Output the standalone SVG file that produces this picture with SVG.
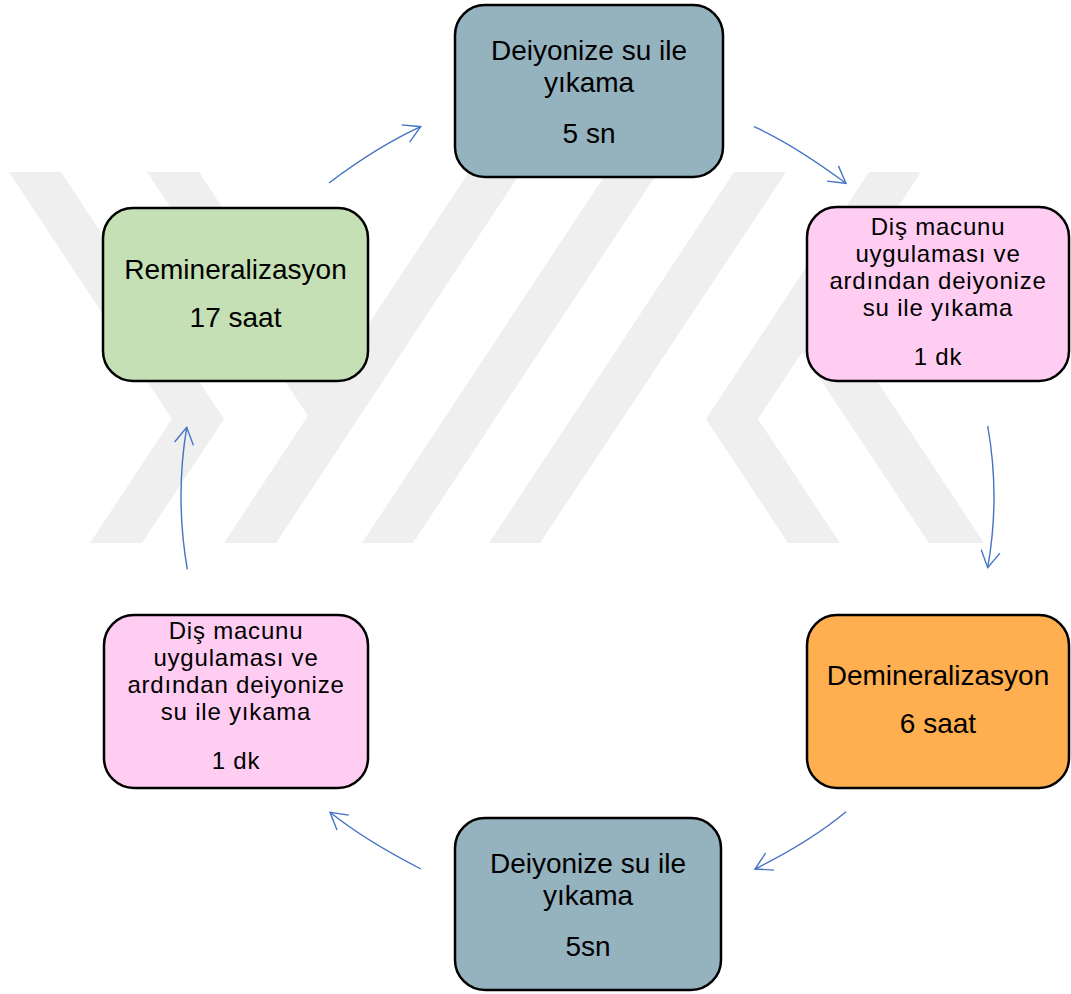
<svg xmlns="http://www.w3.org/2000/svg" width="1071" height="994" viewBox="0 0 1071 994">
<defs>
<style>
.node rect{stroke:#000;stroke-width:2.5}
.blue rect{fill:#95b3be}
.pink rect{fill:#ffccf2}
.green rect{fill:#c5e0b4}
.orange rect{fill:#ffae50}
text{font-family:"Liberation Sans",Arial,sans-serif;fill:#000;text-anchor:middle}
.big{font-size:28px}
.small{font-size:24px;letter-spacing:0.8px}
.wm polygon{fill:#efefef}
.conn path{fill:none;stroke:#4472c4;stroke-width:1.4;marker-end:url(#ah)}
</style>
<marker id="ah" markerUnits="userSpaceOnUse" viewBox="-20 -12 24 24" markerWidth="24" markerHeight="24" refX="0" refY="0" orient="auto">
<path d="M-16.5,-9.5 L0,0 L-16.5,9.5" fill="none" stroke="#4472c4" stroke-width="1.4"/>
</marker>
</defs>
<rect width="1071" height="994" fill="#ffffff"/>
<g id="watermark" class="wm">
<polygon points="9,172 61,172 224,419 142,543 90,543 172,419"/>
<polygon points="147,172 199,172 334,376.5 308,416"/>
<polygon points="469,172 521,172 276,543 224,543"/>
<polygon points="607,172 658,172 413,543 362,543"/>
<polygon points="734,172 786,172 540,543 489,543"/>
<polygon points="869,172 921,172 758,419 840,543 788,543 706,419"/>
<polygon points="802,352 830,310 984,543 929,543"/>
</g>
<g id="connectors" class="conn">
<path d="M329,183 Q377.6,146.4 420.7,126.7"/>
<path d="M754,126.7 Q792.9,144 846,183.3"/>
<path d="M987.7,426 Q1000.3,496.9 987.7,567.7"/>
<path d="M846,811.7 Q811,841 755,869"/>
<path d="M421,869 Q366,841 330,812.3"/>
<path d="M187.3,569.3 Q175,498 186.7,427.3"/>
</g>
<g id="node-rinse-top" class="node blue">
<rect x="455" y="5" width="268" height="172" rx="30"/>
<text class="big" x="589" y="60">Deiyonize su ile</text>
<text class="big" x="589" y="92">yıkama</text>
<text class="big" x="589" y="143">5 sn</text>
</g>
<g id="node-paste-right" class="node pink">
<rect x="807" y="207" width="262" height="174" rx="30"/>
<text class="small" x="938" y="235">Diş macunu</text>
<text class="small" x="938" y="262">uygulaması ve</text>
<text class="small" x="938" y="289">ardından deiyonize</text>
<text class="small" x="938" y="316">su ile yıkama</text>
<text class="small" x="938" y="365">1 dk</text>
</g>
<g id="node-demin" class="node orange">
<rect x="807" y="615" width="262" height="173" rx="30"/>
<text class="big" x="938" y="685">Demineralizasyon</text>
<text class="big" x="938" y="733">6 saat</text>
</g>
<g id="node-rinse-bottom" class="node blue">
<rect x="455" y="818" width="266" height="172" rx="30"/>
<text class="big" x="588" y="873">Deiyonize su ile</text>
<text class="big" x="588" y="905">yıkama</text>
<text class="big" x="588" y="956">5sn</text>
</g>
<g id="node-paste-left" class="node pink">
<rect x="104" y="615" width="264" height="173" rx="30"/>
<text class="small" x="236" y="639">Diş macunu</text>
<text class="small" x="236" y="666">uygulaması ve</text>
<text class="small" x="236" y="693">ardından deiyonize</text>
<text class="small" x="236" y="720">su ile yıkama</text>
<text class="small" x="236" y="769">1 dk</text>
</g>
<g id="node-remin" class="node green">
<rect x="103" y="208" width="265" height="173" rx="30"/>
<text class="big" x="235.5" y="279">Remineralizasyon</text>
<text class="big" x="235.5" y="327">17 saat</text>
</g>
</svg>
